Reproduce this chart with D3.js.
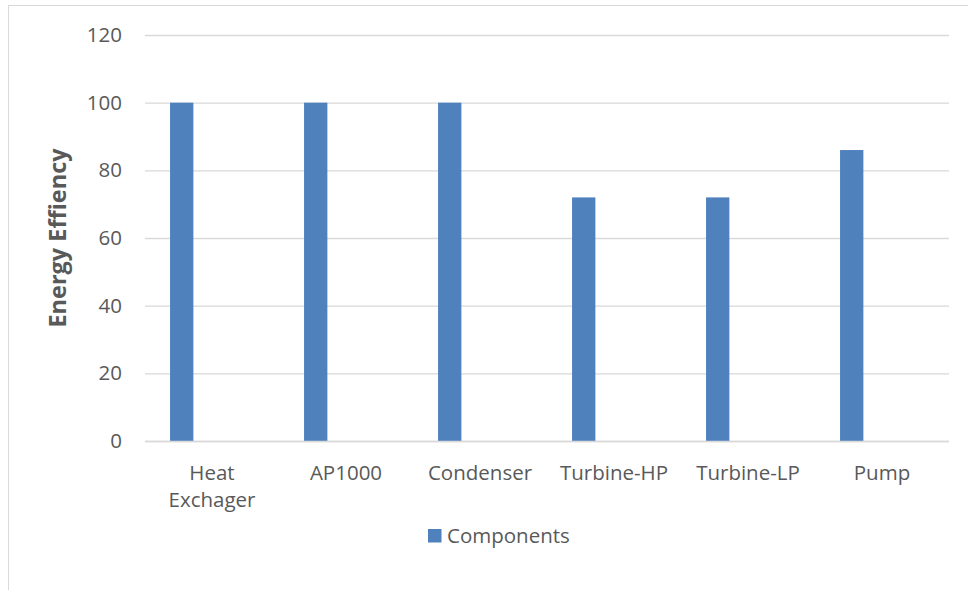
<!DOCTYPE html>
<html>
<head>
<meta charset="utf-8">
<script src="https://cdn.jsdelivr.net/npm/d3@7"></script>
<style>
  html, body { margin: 0; padding: 0; background: #fff; }
  svg { display: block; font-family: "Open Sans", "Noto Sans", sans-serif; }
</style>
</head>
<body>
<svg id="chart" width="968" height="590"></svg>
<script>
const categories = ["Heat Exchager", "AP1000", "Condenser", "Turbine-HP", "Turbine-LP", "Pump"];
const values = [100, 100, 100, 72, 72, 86];
const seriesName = "Components";
const yTicks = [0, 20, 40, 60, 80, 100, 120];
const yTitle = "Energy Effiency";

const svg = d3.select("#chart");
const W = 968, H = 590;
const margin = { left: 145, right: 19, top: 35, bottom: 149 };
const plotW = W - margin.left - margin.right;
const plotH = H - margin.top - margin.bottom;
const FS = "20.5px";

// chart border
svg.append("rect")
  .attr("x", 8.5).attr("y", 5.5)
  .attr("width", W + 10).attr("height", H + 10)
  .attr("fill", "#fff").attr("stroke", "#d9d9d9").attr("stroke-width", 1);

const g = svg.append("g").attr("transform", `translate(${margin.left},${margin.top})`);

const x = d3.scaleBand().domain(categories).range([0, plotW]).paddingInner(0).paddingOuter(0);
const y = d3.scaleLinear().domain([0, 120]).range([plotH, 0]);

// y axis with gridlines
const yAxis = g.append("g")
  .call(d3.axisLeft(y).tickValues(yTicks).tickSize(-plotW).tickPadding(23).tickFormat(d3.format("d")));
yAxis.select(".domain").remove();
yAxis.selectAll(".tick line").attr("stroke", "#d9d9d9").attr("stroke-width", 1.3);
yAxis.selectAll(".tick text")
  .attr("fill", "#595959").attr("font-size", FS)
  .attr("font-family", "'Open Sans', 'Noto Sans', sans-serif");

// bars (series in the first slot of each category cluster)
const barOffset = x.bandwidth() * 0.187;
const barW = x.bandwidth() * 0.174;
g.append("g").selectAll("rect")
  .data(categories.map((c, i) => ({ c, v: values[i] })))
  .join("rect")
  .attr("x", d => x(d.c) + barOffset)
  .attr("y", d => y(d.v))
  .attr("width", barW)
  .attr("height", d => y(0) - y(d.v))
  .attr("fill", "#4f81bd");

// redraw baseline on top
g.append("line")
  .attr("x1", 0).attr("x2", plotW)
  .attr("y1", y(0) + 0.5).attr("y2", y(0) + 0.5)
  .attr("stroke", "#d9d9d9").attr("stroke-width", 1.3);

// x labels
const xl = g.append("g");
categories.forEach(c => {
  const t = xl.append("text")
    .attr("x", x(c) + x.bandwidth() / 2)
    .attr("y", plotH + 39)
    .attr("text-anchor", "middle")
    .attr("fill", "#595959").attr("font-size", FS)
    .text(c);
  if (t.node().getComputedTextLength() > x.bandwidth() - 8 && c.includes(" ")) {
    const words = c.split(" ");
    t.text(null);
    words.forEach((w, i) => {
      t.append("tspan").attr("x", x(c) + x.bandwidth() / 2)
        .attr("dy", i === 0 ? 0 : 27).text(w);
    });
  }
});

// y title
svg.append("text")
  .attr("transform", `translate(66,${margin.top + plotH / 2}) rotate(-90)`)
  .attr("text-anchor", "middle")
  .attr("fill", "#595959").attr("font-size", "23.5px").attr("font-weight", "bold")
  .text(yTitle);

// legend
const lg = svg.append("g").attr("transform", "translate(428,529)");
lg.append("rect").attr("width", 13.5).attr("height", 13.5).attr("fill", "#4f81bd");
lg.append("text").attr("x", 19).attr("y", 14)
  .attr("fill", "#595959").attr("font-size", FS).text(seriesName);
</script>
</body>
</html>
